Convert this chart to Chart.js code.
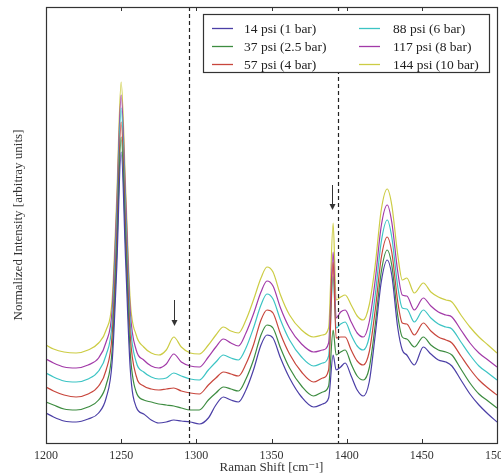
<!DOCTYPE html>
<html>
<head>
<meta charset="utf-8">
<script src="https://cdn.jsdelivr.net/npm/chart.js"></script>
<style>
  html, body { margin: 0; padding: 0; background: #fff; overflow: hidden; }
  #wrap { width: 520px; height: 475px; position: relative; }
</style>
</head>
<body>
<div id="wrap"><canvas id="myChart"></canvas></div>
<script>
// Raman shift positions (cm^-1)
const shifts = [1200,1205,1212,1220,1228,1235,1240,1244,1247,1250,1253,1256,1260,1265,1270,1275,1280,1285,1290,1296,
  1302,1308,1313,1318,1323,1328,1333,1338,1343,1347,1351,1356,1362,1370,1378,1384,1388,1391,1393,1396,
  1399,1403,1407,1411,1415,1419,1423,1427,1430,1434,1437,1440,1445,1451,1456,1461,1466,1470,1476,1482,
  1488,1494,1500];

// normalized intensity (arbitrary units), one list per pressure
const psi14 = [30,26,22,21,24,30,45,81,173,291,181,75,36,29,23,20,21,23,22,21,19,25,38,46,43,41,53,73,98,108,105,85,65,46,36,39,45,88,73,76,80,67,53,47,61,108,161,183,168,115,93,88,78,96,89,83,81,77,63,49,38,29,21];
const psi37 = [41,38,34,33,36,43,58,93,188,306,198,91,51,43,41,39,38,37,35,33,33,43,50,56,54,52,64,83,108,118,115,95,75,57,47,51,57,113,88,91,93,79,67,63,75,118,171,193,178,127,106,104,96,106,98,93,91,88,74,60,49,42,35];
const psi57 = [56,52,48,46,49,57,73,108,203,321,213,108,67,57,54,53,54,55,52,50,49,58,65,71,69,67,79,98,123,133,130,109,89,71,61,65,73,181,105,106,106,93,82,78,91,133,185,206,191,141,120,119,108,120,112,106,103,100,87,74,63,55,48];
const psi88 = [70,66,62,61,64,72,88,121,218,335,228,121,81,71,66,64,65,70,67,64,63,73,81,88,85,83,95,115,138,149,144,123,103,86,77,80,87,167,115,119,121,108,97,93,106,148,201,223,206,156,135,134,121,133,125,119,116,114,101,88,77,70,63];
const psi117 = [84,80,76,75,78,85,101,133,233,348,243,133,93,83,77,75,79,89,81,77,76,86,96,104,100,97,110,129,151,162,157,135,115,99,91,93,100,191,125,131,133,121,110,106,121,163,217,238,221,171,148,147,133,145,137,131,128,126,113,100,90,83,76];
const psi144 = [98,94,91,90,93,100,113,143,243,361,253,143,108,96,90,88,93,106,96,90,89,98,108,116,112,110,123,143,165,176,171,148,128,113,106,108,115,220,143,146,148,138,127,123,138,178,233,254,238,188,163,165,150,160,151,146,143,141,128,116,106,98,90];

const seriesLabels = ['14 psi (1 bar)', '37 psi (2.5 bar)', '57 psi (4 bar)', '88 psi (6 bar)', '117 psi (8 bar)', '144 psi (10 bar)'];
const seriesData = [psi14, psi37, psi57, psi88, psi117, psi144];
const seriesColors = ['#4b3fa6', '#3d8c40', '#c8463c', '#3cc4c4', '#a23aa8', '#cccc44'];

const xTicks = [1200, 1250, 1300, 1350, 1400, 1450, 1500];
const dashedAt = [1295, 1394.5];
const arrows = [{ x: 1285, from: 143, to: 117 }, { x: 1390.5, from: 258, to: 233 }];

const serif = "'Liberation Serif', 'DejaVu Serif', serif";

const extras = {
  id: 'extras',
  afterDatasetsDraw(chart) {
    const ctx = chart.ctx;
    const a = chart.chartArea;
    const xs = chart.scales.x, ys = chart.scales.y;
    ctx.save();
    // dashed markers
    ctx.strokeStyle = '#222';
    ctx.lineWidth = 1.2;
    ctx.setLineDash([4, 3]);
    dashedAt.forEach(v => {
      const px = Math.round(xs.getPixelForValue(v)) + 0.5;
      ctx.beginPath(); ctx.moveTo(px, a.top); ctx.lineTo(px, a.bottom); ctx.stroke();
    });
    ctx.setLineDash([]);
    // arrows
    ctx.strokeStyle = '#333'; ctx.fillStyle = '#333'; ctx.lineWidth = 1;
    arrows.forEach(ar => {
      const px = Math.round(xs.getPixelForValue(ar.x)) + 0.5;
      const y1 = ys.getPixelForValue(ar.from), y2 = ys.getPixelForValue(ar.to);
      ctx.beginPath(); ctx.moveTo(px, y1); ctx.lineTo(px, y2 - 5); ctx.stroke();
      ctx.beginPath(); ctx.moveTo(px - 3, y2 - 6); ctx.lineTo(px + 3, y2 - 6); ctx.lineTo(px, y2); ctx.closePath(); ctx.fill();
    });
    // frame
    ctx.strokeStyle = '#333'; ctx.lineWidth = 1.2;
    ctx.strokeRect(a.left + 0.5, a.top + 0.5, a.right - a.left, a.bottom - a.top);
    // inward ticks
    ctx.lineWidth = 1;
    xTicks.forEach(v => {
      const px = Math.round(xs.getPixelForValue(v)) + 0.5;
      ctx.beginPath();
      ctx.moveTo(px, a.bottom); ctx.lineTo(px, a.bottom - 4);
      ctx.moveTo(px, a.top); ctx.lineTo(px, a.top + 4);
      ctx.stroke();
    });
    // legend box
    const bx = 203, by = 14, bw = 286, bh = 58;
    ctx.fillStyle = '#fff';
    ctx.fillRect(bx, by, bw, bh);
    ctx.strokeStyle = '#333'; ctx.lineWidth = 1.2;
    ctx.strokeRect(bx + 0.5, by + 0.5, bw, bh);
    ctx.font = '13.5px ' + serif;
    ctx.textBaseline = 'middle';
    chart.data.datasets.forEach((ds, i) => {
      const col = Math.floor(i / 3), row = i % 3;
      const lx = col === 0 ? 212 : 359;
      const tx = col === 0 ? 244 : 393;
      const ly = 28 + row * 18;
      ctx.strokeStyle = ds.borderColor; ctx.lineWidth = 1.3;
      ctx.beginPath(); ctx.moveTo(lx, ly + 0.5); ctx.lineTo(lx + 21, ly + 0.5); ctx.stroke();
      ctx.fillStyle = '#222';
      ctx.fillText(ds.label, tx, ly + 1);
    });
    ctx.restore();
  }
};

new Chart(document.getElementById('myChart'), {
  type: 'line',
  data: {
    labels: shifts,
    datasets: seriesData.map((d, i) => ({
      label: seriesLabels[i],
      data: shifts.map((s, j) => ({ x: s, y: d[j] })),
      borderColor: seriesColors[i],
      borderWidth: 1.2,
      pointRadius: 0,
      fill: false,
      cubicInterpolationMode: 'monotone'
    }))
  },
  options: {
    responsive: true,
    maintainAspectRatio: false,
    animation: false,
    layout: { padding: { top: 7, right: 23, left: 0, bottom: 0 } },
    plugins: { legend: { display: false }, tooltip: { enabled: false } },
    scales: {
      x: {
        type: 'linear', min: 1200, max: 1500,
        grid: { display: false, drawTicks: false },
        border: { display: false },
        afterBuildTicks: s => { s.ticks = xTicks.map(v => ({ value: v })); },
        afterFit: s => { s.height = 32; },
        ticks: { color: '#333', padding: 6, maxRotation: 0, font: { family: serif, size: 12 }, callback: v => String(v) },
        title: { display: true, text: 'Raman Shift [cm\u207B\u00B9]', color: '#333', padding: { top: 0, bottom: 0 }, font: { family: serif, size: 13 } }
      },
      y: {
        min: 0, max: 436,
        grid: { display: false, drawTicks: false },
        border: { display: false },
        ticks: { display: false },
        afterFit: s => { s.width = 46; },
        title: { display: true, text: 'Normalized Intensity [arbitray units]', color: '#333', padding: { top: 11, bottom: 0 }, font: { family: serif, size: 13 } }
      }
    }
  },
  plugins: [extras]
});
</script>
</body>
</html>
